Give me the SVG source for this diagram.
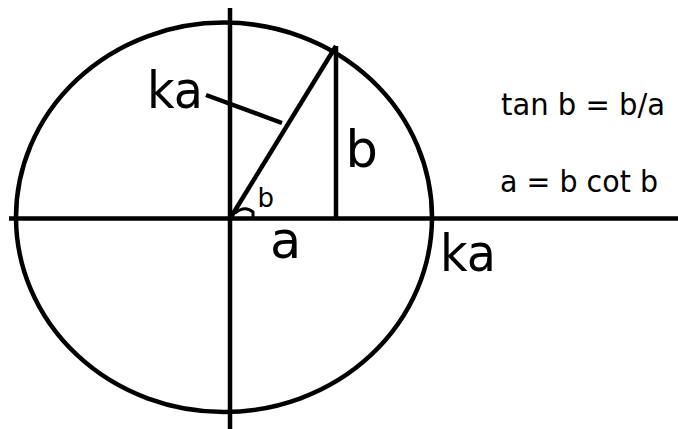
<svg xmlns="http://www.w3.org/2000/svg" width="678" height="429" viewBox="0 0 678 429">
  <style>
    .ln { stroke: #000; stroke-width: 4.5; fill: none; stroke-linecap: butt; }
    .big { font-family: "DejaVu Sans", Verdana, sans-serif; font-size: 51px; fill: #000; }
    .sm { font-family: "DejaVu Sans", Verdana, sans-serif; font-size: 26px; fill: #000; }
    .eq { font-family: "DejaVu Sans", Verdana, sans-serif; font-size: 30px; fill: #000; }
  </style>
  <rect width="678" height="429" fill="#fff"/>
  <g id="circle">
    <ellipse class="ln" cx="224" cy="217.3" rx="208" ry="194.7"/>
  </g>
  <g id="connectors">
    <line class="ln" x1="9" y1="218.5" x2="678" y2="218.5"/>
    <line class="ln" x1="230" y1="8" x2="230" y2="429"/>
    <line class="ln" x1="231" y1="217" x2="336" y2="46"/>
    <line class="ln" x1="336" y1="46" x2="336" y2="220"/>
    <line class="ln" x1="206" y1="95" x2="282" y2="123"/>
    <path class="ln" style="stroke-width:3" d="M235,213 Q245,205 253,212 L253,218"/>
  </g>
  <g id="label-ka-left"><text class="big" x="147" y="108" textLength="56" lengthAdjust="spacingAndGlyphs">ka</text></g>
  <g id="label-b"><text class="big" x="345.5" y="167">b</text></g>
  <g id="label-angle-b"><text class="sm" x="257.5" y="207">b</text></g>
  <g id="label-a"><text class="big" x="270" y="258">a</text></g>
  <g id="label-ka-right"><text class="big" x="440" y="271" textLength="56" lengthAdjust="spacingAndGlyphs">ka</text></g>
  <g id="eq-tan"><text class="eq" x="501" y="115" textLength="164" lengthAdjust="spacingAndGlyphs">tan b = b/a</text></g>
  <g id="eq-cot"><text class="eq" x="500" y="192" textLength="158" lengthAdjust="spacingAndGlyphs">a = b cot b</text></g>
</svg>
